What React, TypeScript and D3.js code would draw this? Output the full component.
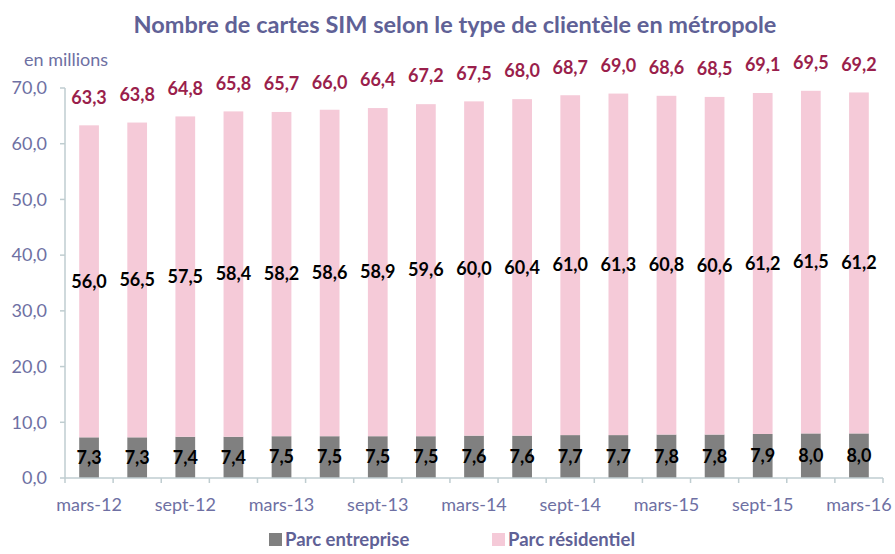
import React, { useEffect, useRef } from "react";
import * as d3 from "d3";

const periods = [
  "mars-12", "juin-12", "sept-12", "déc-12",
  "mars-13", "juin-13", "sept-13", "déc-13",
  "mars-14", "juin-14", "sept-14", "déc-14",
  "mars-15", "juin-15", "sept-15", "déc-15",
  "mars-16",
];
const enterprise = [7.3, 7.3, 7.4, 7.4, 7.5, 7.5, 7.5, 7.5, 7.6, 7.6, 7.7, 7.7, 7.8, 7.8, 7.9, 8.0, 8.0];
const residential = [56.0, 56.5, 57.5, 58.4, 58.2, 58.6, 58.9, 59.6, 60.0, 60.4, 61.0, 61.3, 60.8, 60.6, 61.2, 61.5, 61.2];
const totals = [63.3, 63.8, 64.8, 65.8, 65.7, 66.0, 66.4, 67.2, 67.5, 68.0, 68.7, 69.0, 68.6, 68.5, 69.1, 69.5, 69.2];
const yTicks = [0, 10, 20, 30, 40, 50, 60, 70];

const W = 895;
const H = 554;
const FONT = "Lato, 'Open Sans', sans-serif";
const AXIS_TEXT = "#6e70a3";
const AXIS_LINE = "#bfcdd0";

const fmt = (v: number) => d3.format(".1f")(v).replace(".", ",");

export default function App() {
  const svgRef = useRef<SVGSVGElement>(null);

  useEffect(() => {
    const svg = d3.select(svgRef.current);
    svg.selectAll("*").remove();

    const margin = { left: 65, right: 12, top: 88, bottom: 76 };

    const x = d3.scaleBand()
      .domain(periods)
      .range([margin.left, W - margin.right])
      .paddingInner(0.59)
      .paddingOuter(0.295);

    const y = d3.scaleLinear()
      .domain([0, 70])
      .range([H - margin.bottom, margin.top]);

    // title
    svg.append("text")
      .attr("x", 455)
      .attr("y", 33)
      .attr("text-anchor", "middle")
      .attr("font-family", FONT)
      .attr("font-weight", "bold")
      .attr("font-size", 23.5)
      .attr("fill", "#5f6196")
      .text("Nombre de cartes SIM selon le type de clientèle en métropole");

    svg.append("text")
      .attr("x", 24)
      .attr("y", 66)
      .attr("font-family", FONT)
      .attr("font-size", 18)
      .attr("fill", AXIS_TEXT)
      .text("en millions");

    // y axis
    const yAxis = svg.append("g").attr("transform", `translate(${margin.left},0)`);
    yAxis.append("line")
      .attr("y1", y(0)).attr("y2", y(70))
      .attr("stroke", AXIS_LINE).attr("stroke-width", 1.5);
    yTicks.forEach((t) => {
      yAxis.append("line")
        .attr("x1", -5).attr("x2", 0)
        .attr("y1", y(t)).attr("y2", y(t))
        .attr("stroke", AXIS_LINE).attr("stroke-width", 1.5);
      yAxis.append("text")
        .attr("x", -18)
        .attr("y", y(t))
        .attr("dy", "0.35em")
        .attr("text-anchor", "end")
        .attr("font-family", FONT)
        .attr("font-size", 18)
        .attr("fill", AXIS_TEXT)
        .text(fmt(t));
    });

    // stacked bars
    const bars = svg.append("g");
    periods.forEach((p, i) => {
      const bx = x(p)!;
      bars.append("rect")
        .attr("x", bx)
        .attr("width", x.bandwidth())
        .attr("y", y(enterprise[i]))
        .attr("height", y(0) - y(enterprise[i]))
        .attr("fill", "#808080");
      bars.append("rect")
        .attr("x", bx)
        .attr("width", x.bandwidth())
        .attr("y", y(enterprise[i] + residential[i]))
        .attr("height", y(enterprise[i]) - y(enterprise[i] + residential[i]))
        .attr("fill", "#f5cad8");
    });

    // x axis
    const step = x.step();
    const xAxis = svg.append("g").attr("transform", `translate(0,${y(0)})`);
    xAxis.append("line")
      .attr("x1", margin.left).attr("x2", W - margin.right)
      .attr("stroke", AXIS_LINE).attr("stroke-width", 1.5);
    d3.range(periods.length + 1).forEach((k) => {
      const tx = margin.left + k * step;
      xAxis.append("line")
        .attr("x1", tx).attr("x2", tx)
        .attr("y1", 0).attr("y2", 5)
        .attr("stroke", AXIS_LINE).attr("stroke-width", 1.5);
    });
    periods.forEach((p, i) => {
      if (i % 2 !== 0) return;
      xAxis.append("text")
        .attr("x", x(p)! + x.bandwidth() / 2)
        .attr("y", 33)
        .attr("text-anchor", "middle")
        .attr("font-family", FONT)
        .attr("font-size", 18)
        .attr("fill", AXIS_TEXT)
        .text(p);
    });

    // labels
    const labels = svg.append("g")
      .attr("font-family", FONT)
      .attr("font-weight", "bold")
      .attr("text-anchor", "middle")
      .attr("font-size", 18);
    periods.forEach((p, i) => {
      const cx = x(p)! + x.bandwidth() / 2;
      labels.append("text")
        .attr("x", cx)
        .attr("y", y(enterprise[i] / 2))
        .attr("dy", "0.35em")
        .attr("fill", "#000")
        .text(fmt(enterprise[i]));
      labels.append("text")
        .attr("x", cx)
        .attr("y", y(enterprise[i] + residential[i] / 2))
        .attr("dy", "0.35em")
        .attr("fill", "#000")
        .text(fmt(residential[i]));
      labels.append("text")
        .attr("x", cx)
        .attr("y", y(totals[i]) - 28)
        .attr("dy", "0.35em")
        .attr("fill", "#9a1f4c")
        .text(fmt(totals[i]));
    });

    // legend
    const legend = svg.append("g")
      .attr("font-family", FONT)
      .attr("font-weight", "bold")
      .attr("font-size", 18.5)
      .attr("fill", "#5f6196");
    const items = [
      { label: "Parc entreprise", color: "#808080", x: 269 },
      { label: "Parc résidentiel", color: "#f5cad8", x: 492 },
    ];
    items.forEach((it) => {
      legend.append("rect")
        .attr("x", it.x).attr("y", 533)
        .attr("width", 13).attr("height", 13)
        .attr("fill", it.color);
      legend.append("text")
        .attr("x", it.x + 16).attr("y", 546)
        .text(it.label);
    });
  }, []);

  return (
    <svg
      ref={svgRef}
      width={W}
      height={H}
      style={{ position: "absolute", left: 0, top: 0, background: "#fff" }}
    />
  );
}
